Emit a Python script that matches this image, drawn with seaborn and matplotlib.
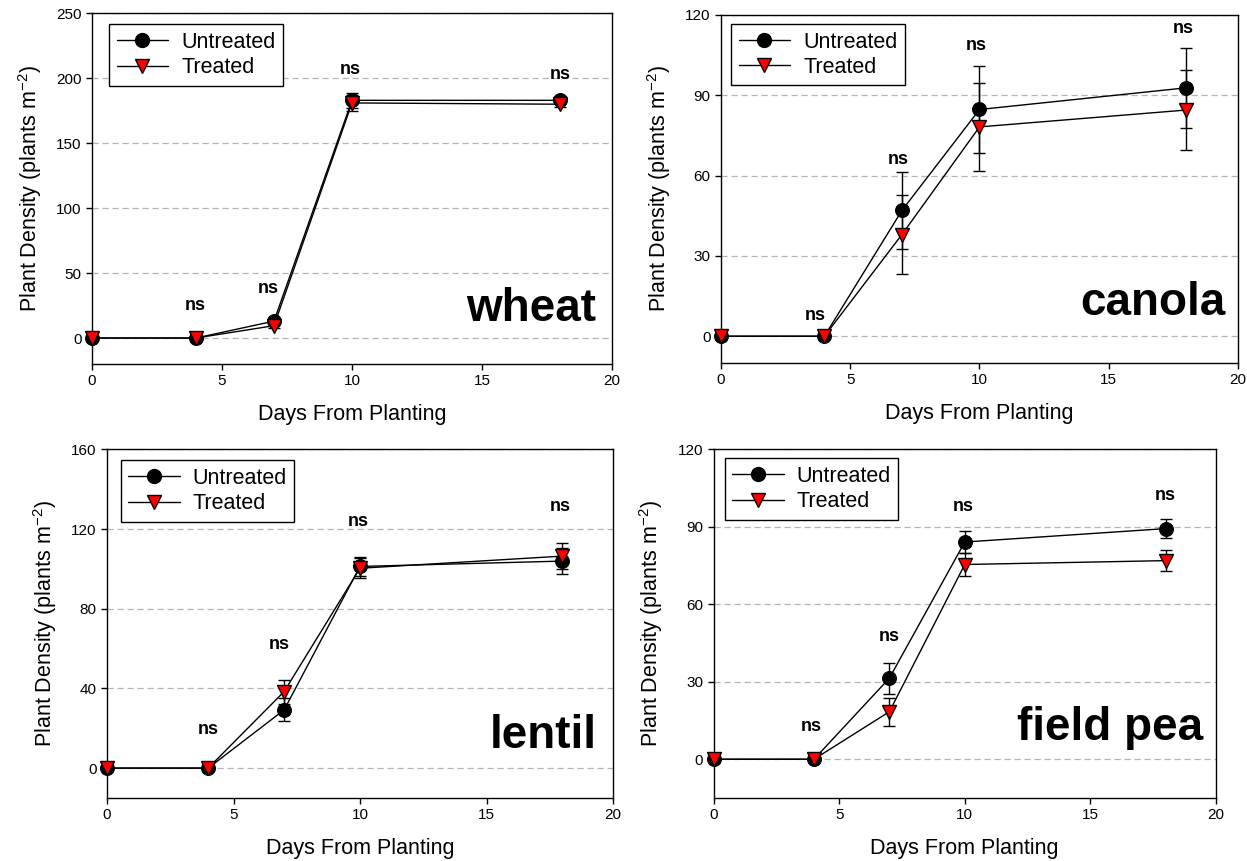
import numpy as np
import pandas as pd
import matplotlib
matplotlib.use("Agg")
import matplotlib.pyplot as plt
import seaborn as sns
from matplotlib.lines import Line2D

# ---------------- data ----------------
days = [0, 4, 7, 10, 18]
crops = ["wheat", "canola", "lentil", "field pea"]

wheat_untreated = [0, 0, 13, 183, 183]
wheat_untreated_err = [0, 0, 2, 6, 2]
wheat_treated = [0, 0, 9.5, 181, 180]
wheat_treated_err = [0, 0, 2, 6, 2]

canola_untreated = [0, 0, 47, 84.7, 92.8]
canola_untreated_err = [0, 0, 14.5, 16.3, 15]
canola_treated = [0, 0, 38, 78.2, 84.5]
canola_treated_err = [0, 0, 14.6, 16.4, 15.1]

lentil_untreated = [0, 0, 29.2, 101.2, 103.9]
lentil_untreated_err = [0, 0, 5.8, 5, 6.5]
lentil_treated = [0, 0, 38.4, 100.3, 106.4]
lentil_treated_err = [0, 0, 6, 5, 6.7]

pea_untreated = [0, 0, 31.4, 84.1, 89.3]
pea_untreated_err = [0, 0, 6, 4.4, 3.7]
pea_treated = [0, 0, 18.4, 75.4, 76.9]
pea_treated_err = [0, 0, 5.5, 4.5, 4]

# "ns" annotation positions (x, y) per crop
wheat_ns_x = [3.97, 6.77, 9.93, 18.0]
wheat_ns_y = [25, 38.5, 207, 203]
canola_ns_x = [3.63, 6.86, 9.87, 17.9]
canola_ns_y = [7.9, 66, 108.5, 115]
lentil_ns_x = [4.0, 6.8, 9.95, 17.9]
lentil_ns_y = [19.2, 62.1, 124, 131.5]
pea_ns_x = [3.9, 7.0, 9.94, 18.0]
pea_ns_y = [12.6, 47.5, 97.8, 102.3]

y_limits = [(-20, 250), (-10, 120), (-15, 160), (-15, 120)]
y_ticks = [[0, 50, 100, 150, 200, 250], [0, 30, 60, 90, 120],
           [0, 40, 80, 120, 160], [0, 30, 60, 90, 120]]
x_ticks = [0, 5, 10, 15, 20]

# ---------------- layout ----------------
W, H = 1247, 861
sns.set_theme(style="ticks")
plt.rcParams["font.family"] = ["Liberation Sans", "DejaVu Sans"]
plt.rcParams["axes.linewidth"] = 1.0
plt.rcParams["text.color"] = "black"
plt.rcParams["axes.labelcolor"] = "black"
plt.rcParams["xtick.color"] = "black"
plt.rcParams["ytick.color"] = "black"
plt.rcParams["mathtext.default"] = "regular"

fig = plt.figure(figsize=(W / 100, H / 100), dpi=100)

def rect(l, r, t, b):
    return [l / W, 1 - b / H, (r - l) / W, (b - t) / H]

axes_px = [(92, 612, 13.3, 364), (721, 1238, 15, 363),
           (107, 613, 449.3, 798), (713.5, 1216, 449.3, 798)]
legend_off = [(17, 11), (10, 9), (13.5, 11), (11, 9)]
label_pos = [(19.4, 13), (19.53, 7.9), (19.34, 10), (19.49, 7.5)]

series = [
    (wheat_untreated, wheat_untreated_err, wheat_treated, wheat_treated_err, wheat_ns_x, wheat_ns_y),
    (canola_untreated, canola_untreated_err, canola_treated, canola_treated_err, canola_ns_x, canola_ns_y),
    (lentil_untreated, lentil_untreated_err, lentil_treated, lentil_treated_err, lentil_ns_x, lentil_ns_y),
    (pea_untreated, pea_untreated_err, pea_treated, pea_treated_err, pea_ns_x, pea_ns_y),
]

for i, crop in enumerate(crops):
    l, r, t, b = axes_px[i]
    ax = fig.add_axes(rect(l, r, t, b))
    u, ue, tr, te, nsx, nsy = series[i]
    df = pd.DataFrame({
        "day": days * 2,
        "density": u + tr,
        "trt": ["Untreated"] * len(days) + ["Treated"] * len(days),
    })
    # error bars behind markers
    ax.errorbar(days, u, yerr=ue, fmt="none", ecolor="black", elinewidth=1,
                capsize=4, capthick=1, zorder=2, clip_on=False)
    ax.errorbar(days, tr, yerr=te, fmt="none", ecolor="black", elinewidth=1,
                capsize=4, capthick=1, zorder=2, clip_on=False)
    sns.lineplot(data=df[df.trt == "Untreated"], x="day", y="density", ax=ax,
                 color="black", lw=1, marker="o", markersize=10,
                 markerfacecolor="black", markeredgecolor="black",
                 zorder=3, clip_on=False, legend=False)
    sns.lineplot(data=df[df.trt == "Treated"], x="day", y="density", ax=ax,
                 color="black", lw=1, marker="v", markersize=10,
                 markerfacecolor="#ff0000", markeredgecolor="black",
                 markeredgewidth=1, zorder=4, clip_on=False, legend=False)

    ax.set_xlim(0, 20)
    ax.set_ylim(*y_limits[i])
    ax.set_xticks(x_ticks)
    ax.set_yticks(y_ticks[i])
    ax.yaxis.grid(True, linestyle=(0, (5, 3)), color="#b5b5b5", linewidth=0.9)
    ax.set_axisbelow(True)
    for s in ax.spines.values():
        s.set_visible(True)
        s.set_color("black")
        s.set_linewidth(1.0)
    ax.tick_params(direction="out", length=4, width=1, labelsize=11,
                   colors="black", top=False, right=False)
    ax.set_xlabel("Days From Planting", fontsize=15.5, labelpad=11)
    ax.set_ylabel("Plant Density (plants m$^{-2}$)", fontsize=15.5, labelpad=9)

    for x, y in zip(nsx, nsy):
        ax.text(x, y, "ns", ha="center", va="center", fontsize=13,
                fontweight="bold")
    lx, ly = label_pos[i]
    ax.text(lx, ly, crop, ha="right", va="baseline", fontsize=33,
            fontweight="bold")

    handles = [
        Line2D([], [], color="black", lw=1, marker="o", markersize=10,
               markerfacecolor="black", markeredgecolor="black"),
        Line2D([], [], color="black", lw=1, marker="v", markersize=10,
               markerfacecolor="#ff0000", markeredgecolor="black"),
    ]
    ox, oy = legend_off[i]
    leg = ax.legend(handles, ["Untreated", "Treated"], loc="upper left",
                    bbox_to_anchor=(ox / (r - l), 1 - oy / (b - t)),
                    borderaxespad=0, fontsize=15.5, frameon=True, fancybox=False,
                    edgecolor="black", framealpha=1, numpoints=1,
                    handlelength=2.4, handletextpad=0.6, labelspacing=0.2,
                    borderpad=0.35)
    leg.get_frame().set_linewidth(1.0)

fig.savefig("out.png", dpi=100)
